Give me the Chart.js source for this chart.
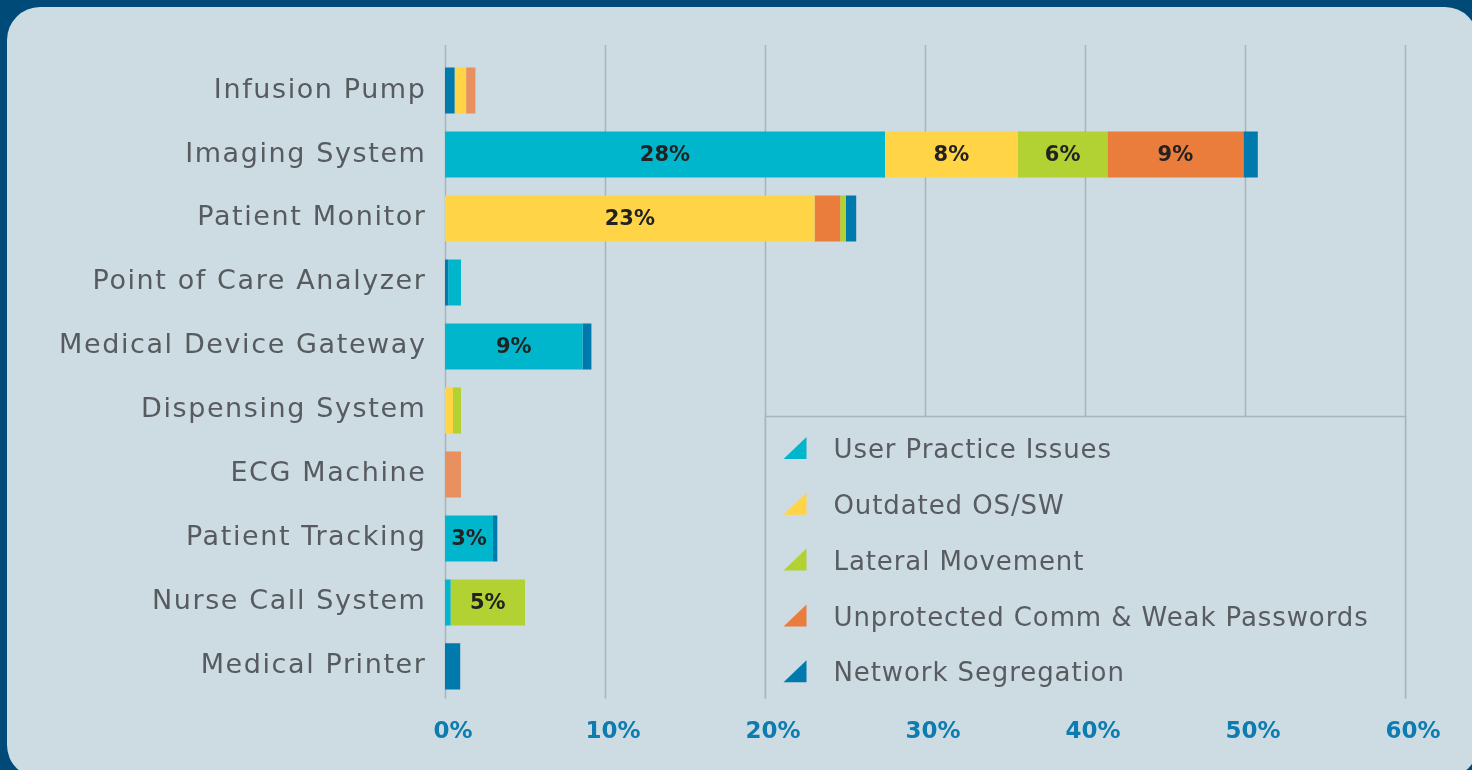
<!DOCTYPE html>
<html><head><meta charset="utf-8">
<script src="https://cdn.jsdelivr.net/npm/chart.js@4.4.1/dist/chart.umd.min.js"></script>
<style>
html,body{margin:0;padding:0;background:#004a77;width:1472px;height:770px;overflow:hidden}
#panel{position:absolute;left:7px;top:7px;width:1471px;height:771px;border-radius:33px;background:#cddbe3}
#wrap{position:absolute;left:0;top:0;width:1472px;height:770px}
</style></head><body>
<div id="panel"></div>
<div id="wrap"><canvas id="c" width="1472" height="770"></canvas></div>
<script>
const categories = ['Infusion Pump','Imaging System','Patient Monitor','Point of Care Analyzer','Medical Device Gateway','Dispensing System','ECG Machine','Patient Tracking','Nurse Call System','Medical Printer'];
const seriesNames = ['User Practice Issues','Outdated OS/SW','Lateral Movement','Unprotected Comm & Weak Passwords','Network Segregation'];
// Network Segregation share drawn at the start of the bar (as in the source for some devices)
const networkSegregationLead = [0.6, 0, 0, 0.2, 0, 0, 0, 0, 0, 0.95];
const userPractice    = [0, 27.5, 0, 0.8, 8.6, 0, 0, 3.0, 0.35, 0];
const outdatedOS      = [0.72, 8.3, 23.1, 0, 0, 0.5, 0, 0, 0, 0];
const lateralMovement = [0, 5.6, 0, 0, 0, 0.5, 0, 0, 4.65, 0];
const unprotectedComm = [0.58, 8.5, 1.6, 0, 0, 0, 1.0, 0, 0, 0];
// Lateral Movement share drawn after the orange segment (Patient Monitor)
const lateralMovementTail = [0, 0, 0.35, 0, 0, 0, 0, 0, 0, 0];
const networkSegregation = [0, 0.9, 0.65, 0, 0.55, 0, 0, 0.27, 0, 0];
const xTickValues = [0, 10, 20, 30, 40, 50, 60];

const C_CYAN='#00b6cc', C_YEL='#ffd447', C_GRN='#b2d233', C_ORG='#eb7d3c', C_ORG_L='#e8905e', C_BLU='#0079ad';
const GRID='#a9b3ba', PANEL='#cddbe3';
const FONT = "'DejaVu Sans', sans-serif";
Chart.defaults.font.family = FONT;

const gridPlugin = {
  id:'gridExt',
  beforeDatasetsDraw(chart){
    const {ctx, chartArea, scales:{x}} = chart;
    ctx.save();
    ctx.strokeStyle = GRID; ctx.lineWidth = 1.5;
    xTickValues.forEach(v=>{
      const px = Math.round(x.getPixelForValue(v))+0.5;
      ctx.beginPath(); ctx.moveTo(px, 45); ctx.lineTo(px, chartArea.bottom); ctx.stroke();
    });
    ctx.restore();
  }
};

const valueLabelPlugin = {
  id:'valueLabels',
  afterDatasetsDraw(chart){
    const {ctx} = chart;
    ctx.save();
    ctx.font = "700 21px " + FONT;
    ctx.fillStyle = '#222';
    ctx.textAlign='center'; ctx.textBaseline='middle';
    chart.data.datasets.forEach((ds, di)=>{
      const meta = chart.getDatasetMeta(di);
      meta.data.forEach((el, i)=>{
        const v = ds.data[i];
        if (v >= 3) {
          ctx.fillText(Math.round(v)+'%', (el.x + el.base)/2, el.y+1);
        }
      });
    });
    ctx.restore();
  }
};

const legendPlugin = {
  id:'boxLegend',
  afterDatasetsDraw(chart){
    const {ctx, chartArea, scales:{x}} = chart;
    const left = Math.round(x.getPixelForValue(20))+0.5;
    const right = Math.round(x.getPixelForValue(60))+0.5;
    const top = 416.5, bottom = chartArea.bottom;
    ctx.save();
    ctx.fillStyle = PANEL;
    ctx.fillRect(left, top, right-left, bottom-top);
    ctx.strokeStyle = GRID; ctx.lineWidth = 1.5;
    ctx.beginPath(); ctx.moveTo(left, bottom); ctx.lineTo(left, top); ctx.lineTo(right, top); ctx.lineTo(right, bottom); ctx.stroke();
    const items = chart.data.datasets.filter(d=>!d.hideInLegend);
    ctx.font = "400 26px " + FONT;
    ctx.letterSpacing = '0.9px';
    ctx.textBaseline='middle'; ctx.textAlign='left';
    items.forEach((d, k)=>{
      const cy = top + 32.5 + k*55.8;
      ctx.fillStyle = d.legendColor;
      ctx.beginPath();
      ctx.moveTo(left+41, cy-12); ctx.lineTo(left+41, cy+10); ctx.lineTo(left+18, cy+10); ctx.closePath(); ctx.fill();
      ctx.fillStyle = '#585c60';
      ctx.fillText(d.label, left+68, cy+2.5);
    });
    ctx.restore();
  }
};

const chart = new Chart(document.getElementById('c'), {
  type:'bar',
  data:{
    labels: categories,
    datasets:[
      {label:seriesNames[4], data:networkSegregationLead, backgroundColor:C_BLU, hideInLegend:true},
      {label:seriesNames[0], data:userPractice, backgroundColor:C_CYAN, legendColor:C_CYAN},
      {label:seriesNames[1], data:outdatedOS, backgroundColor:C_YEL, legendColor:C_YEL},
      {label:seriesNames[2], data:lateralMovement, backgroundColor:C_GRN, legendColor:C_GRN},
      {label:seriesNames[3], data:unprotectedComm, backgroundColor:[C_ORG_L,C_ORG,C_ORG,C_ORG,C_ORG,C_ORG,C_ORG_L,C_ORG,C_ORG,C_ORG], legendColor:C_ORG},
      {label:seriesNames[2], data:lateralMovementTail, backgroundColor:C_GRN, hideInLegend:true},
      {label:seriesNames[4], data:networkSegregation, backgroundColor:C_BLU, legendColor:C_BLU}
    ]
  },
  options:{
    indexAxis:'y',
    responsive:false,
    animation:false,
    layout:{padding:{left:0, right:67, top:58.5, bottom:4}},
    datasets:{bar:{categoryPercentage:0.72, barPercentage:1, borderWidth:0}},
    plugins:{legend:{display:false}, tooltip:{enabled:false}},
    scales:{
      x:{
        stacked:true, min:0, max:60,
        grid:{display:false, drawTicks:false},
        border:{display:false},
        ticks:{stepSize:10, callback:v=>v+'%', color:'#0d7cb0', font:{size:23, weight:'700'}, padding:20, labelOffset:8, maxRotation:0}
      },
      y:{
        stacked:true,
        grid:{display:false, drawTicks:false},
        border:{display:false},
        ticks:{color:'#575b5f', font:{size:27}, padding:18.5, labelOffset:0},
        afterFit(s){ s.width = 445; }
      }
    }
  },
  plugins:[gridPlugin, valueLabelPlugin, legendPlugin]
});
// wider letter spacing for the category labels (source uses a wide geometric typeface)
const yScale = chart.scales.y;
const origDrawLabels = yScale.drawLabels;
yScale.drawLabels = function(area){
  const ctx = this.ctx;
  ctx.save();
  ctx.letterSpacing = '1.6px';
  origDrawLabels.call(this, area);
  ctx.restore();
};
chart.draw();
</script>
</body></html>
